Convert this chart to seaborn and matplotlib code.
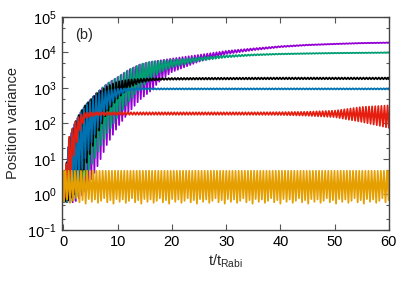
import numpy as np
import pandas as pd
import matplotlib
matplotlib.use("Agg")
import matplotlib.pyplot as plt
import matplotlib.ticker as mticker
import seaborn as sns

# -------------------------------
# Data (upper / lower envelopes of each oscillating curve)
# -------------------------------
t_knots = [0, 1, 2, 3, 4, 6, 8, 10, 12, 14, 16, 18, 20, 25, 30, 35, 40, 45, 50, 55, 60]

purple_hi = [1, 35, 95, 190, 320, 700, 1300, 2000, 3200, 4500, 5300, 6000, 6700, 8500, 11000, 13000, 15000, 16500, 17500, 18500, 19000]
purple_lo = [0.6, 0.6, 0.6, 0.8, 1.2, 5, 25, 80, 200, 450, 800, 1700, 2800, 5500, 9000, 11500, 14000, 15800, 17000, 18000, 18500]

green_hi = [1, 38, 100, 200, 330, 700, 1300, 2000, 3200, 4500, 5500, 5800, 6200, 7200, 8200, 8800, 9200, 9500, 9700, 9850, 10000]
green_lo = [0.6, 0.6, 0.7, 1.2, 3, 12, 50, 150, 400, 900, 1700, 2800, 3800, 5800, 7200, 8200, 8800, 9100, 9400, 9550, 9700]

black_hi = [1, 35, 95, 190, 320, 650, 1100, 1500, 1700, 1800, 1850, 1880, 1900, 1920, 1930, 1940, 1950, 1950, 1950, 1950, 1950]
black_lo = [0.6, 0.7, 1, 2, 6, 40, 200, 500, 1000, 1400, 1600, 1680, 1700, 1720, 1730, 1740, 1750, 1750, 1750, 1750, 1750]

blue_hi = [1, 30, 90, 180, 300, 600, 850, 950, 970, 970, 970, 970, 970, 970, 970, 970, 970, 970, 970, 970, 970]
blue_lo = [0.6, 0.8, 1, 3, 10, 60, 250, 600, 850, 890, 900, 900, 905, 905, 905, 905, 905, 905, 905, 905, 905]

red_hi = [1.5, 40, 100, 170, 200, 205, 205, 205, 205, 205, 205, 205, 205, 205, 205, 205, 207, 212, 228, 290, 320]
red_lo = [0.7, 1.5, 15, 60, 140, 170, 172, 175, 175, 175, 175, 175, 175, 175, 175, 175, 173, 165, 150, 110, 75]

yellow_hi = [4.6] * len(t_knots)
yellow_lo = [0.6] * len(t_knots)
yellow_trough_pattern = [0.62, 0.72, 0.58, 0.66, 0.78, 0.6, 0.69, 0.55, 0.74]

period = 0.57

curves = [
    ("purple", purple_hi, purple_lo, "#9400d3", 0.0),
    ("green", green_hi, green_lo, "#009e73", 0.15),
    ("black", black_hi, black_lo, "#000000", 0.3),
    ("blue", blue_hi, blue_lo, "#0072b2", 0.05),
    ("red", red_hi, red_lo, "#e51e10", 0.2),
    ("yellow", yellow_hi, yellow_lo, "#e69f00", 0.1),
]


def zigzag(hi, lo, phase, trough=None):
    # alternate between the upper and lower envelope every half period
    t = np.arange(phase, 60.0001, period / 2)
    t = np.concatenate([[0.0], t, [60.0]])
    lhi = np.interp(t, t_knots, np.log10(hi))
    llo = np.interp(t, t_knots, np.log10(lo))
    y = np.where(np.arange(len(t)) % 2 == 0, 10 ** lhi, 10 ** llo)
    if trough is not None:
        k = np.arange(len(t))
        odd = k % 2 == 1
        y[odd] = np.array(trough)[(k[odd] // 2) % len(trough)]
    return t, y


# -------------------------------
# Plot
# -------------------------------
sns.set_style("ticks")
plt.rcParams["font.family"] = ["Liberation Sans", "DejaVu Sans"]
plt.rcParams["mathtext.default"] = "regular"
plt.rcParams["xtick.direction"] = "in"
plt.rcParams["ytick.direction"] = "in"

fig = plt.figure(figsize=(4.15, 2.91), dpi=100)
ax = fig.add_axes([0.149, 0.21, 0.788, 0.732])

for name, hi, lo, color, phase in curves:
    trough = yellow_trough_pattern if name == "yellow" else None
    t, y = zigzag(hi, lo, phase, trough)
    df = pd.DataFrame({"t": t, "var": y})
    sns.lineplot(data=df, x="t", y="var", ax=ax, color=color, lw=1.3,
                 estimator=None, sort=False)

ax.set_yscale("log")
ax.set_xlim(-0.3, 60)
ax.set_ylim(0.1, 1e5)
ax.set_xticks([0, 10, 20, 30, 40, 50, 60])
ax.yaxis.set_major_locator(mticker.LogLocator(base=10, numticks=10))
ax.yaxis.set_minor_locator(mticker.LogLocator(base=10, subs=[2, 5], numticks=10))
ax.yaxis.set_minor_formatter(mticker.NullFormatter())

ax.tick_params(which="both", top=True, right=True, labelsize=10.5, colors="#555555",
               labelcolor="black", width=0.8)
ax.tick_params(which="major", length=4.5)
ax.tick_params(which="minor", length=2.5)
for s in ax.spines.values():
    s.set_color("#444444")
    s.set_linewidth(1.0)

ax.set_xlabel(r"t/t$_{Rabi}$", fontsize=10.5, labelpad=3)
ax.set_ylabel("Position variance", fontsize=10.5, labelpad=5)
ax.text(0.04, 0.95, "(b)", transform=ax.transAxes, fontsize=10.5, va="top", ha="left")

fig.savefig("out.png", dpi=100)
